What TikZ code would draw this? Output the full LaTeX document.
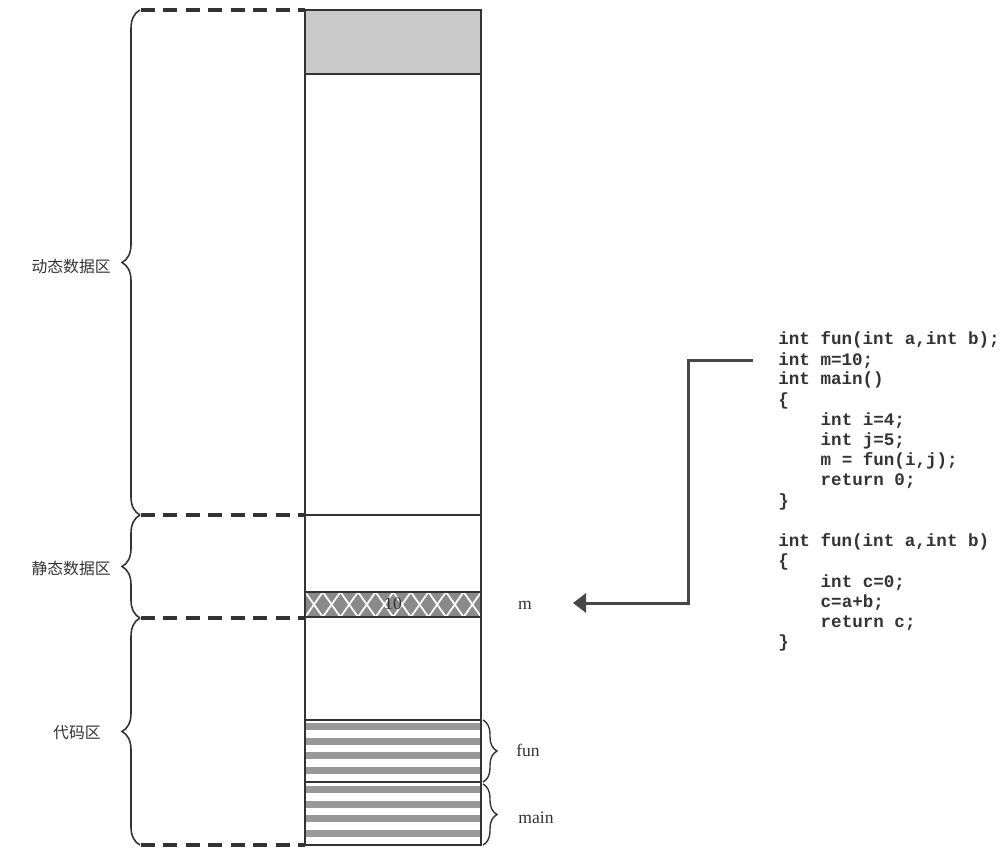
\documentclass[tikz,border=0pt]{standalone}
\usepackage{fontspec}
\setmainfont{Liberation Serif}
\setmonofont{Liberation Mono}
\newfontfamily\cjk{Noto Sans CJK SC}
\usetikzlibrary{arrows.meta,decorations.pathreplacing}
\definecolor{ink}{HTML}{333333}
\tikzset{
  wall/.style={draw=ink,line width=0.8pt},
  guide/.style={draw=ink,line width=2.2pt,dash pattern=on 0.28cm off 0.17cm},
  lbrace/.style={decorate,decoration={brace,amplitude=0.36cm},draw=ink,line width=0.9pt},
  rbrace/.style={decorate,decoration={brace,amplitude=0.28cm},draw=ink,line width=0.8pt},
  area/.style={font=\cjk\fontsize{9}{10}\selectfont,text=ink,inner sep=0pt},
  tag/.style={font=\fontsize{10}{12}\selectfont,text=ink,inner sep=0pt},
  code/.style={font=\ttfamily\bfseries\fontsize{10}{12}\selectfont,text=ink,anchor=west,inner sep=0pt},
  ptr/.style={draw=ink!90,line width=1.7pt,-{Triangle[length=0.26cm,width=0.38cm]}}
}
\begin{document}
\begin{tikzpicture}[x=0.02cm,y=-0.02cm]
\useasboundingbox (0,0) rectangle (1007,849);
% memory column
\fill[gray!42](305,10)rectangle(481,74);
\fill[gray!92](305,592)rectangle(481,617);
\begin{scope}
\clip(305,592)rectangle(481,617);
\foreach\x in{270,287.6,...,500}{\draw[white,line width=1pt](\x,592)--(\x+17.6,617)(\x+17.6,592)--(\x,617);}
\end{scope}
\foreach\y in{723,737.7,752.4,767,786,800.5,815,829.5}{\fill[gray!80](305,\y)rectangle(481,\y+7);}
\draw[wall](305,10)rectangle(481,845);
\draw[wall,line width=1.3pt](305,10)rectangle(481,74);
\foreach\y in{515,592,617,720,782}{\draw[wall](305,\y)--(481,\y);}
\node[tag](val)at(393,604){10};
% regions
\foreach\y in{10,515,618,845}{\draw[guide](141,\y)--(305,\y);}
\draw[lbrace](140,515)--(140,10);\draw[lbrace](140,618)--(140,515);\draw[lbrace](140,845)--(140,618);
\node[area,anchor=east](dyn)at(111,266){动态数据区};
\node[area,anchor=east](sta)at(111,568){静态数据区};
\node[area,anchor=east](txt)at(101,733){代码区};
\draw[rbrace](483,720)--(483,782);\draw[rbrace](483,784)--(483,845);
\node[tag](fun)at(528,750){fun};
\node[tag](mainf)at(536,818){main};
\node[tag](m)at(525,605){m};
% source
\foreach\i/\d/\t in{1/0/{int fun(int a,int b);},2/0/{int m=10;},3/0/{int main()},4/0/{\{},5/4/{int i=4;},6/4/{int j=5;},7/4/{m = fun(i,j);},8/4/{return 0;},9/0/{\}},11/0/{int fun(int a,int b)},12/0/{\{},13/4/{int c=0;},14/4/{c=a+b;},15/4/{return c;},16/0/{\}}}
  {\node[code](c\i)at(778+10.58*\d,340+20.2*\i-20.2){\t};}
\coordinate(mtip)at(573,603);
\draw[ptr]([xshift=-0.5cm]c2.west)--++(-65,0)|-(mtip);
\end{tikzpicture}
\end{document}
